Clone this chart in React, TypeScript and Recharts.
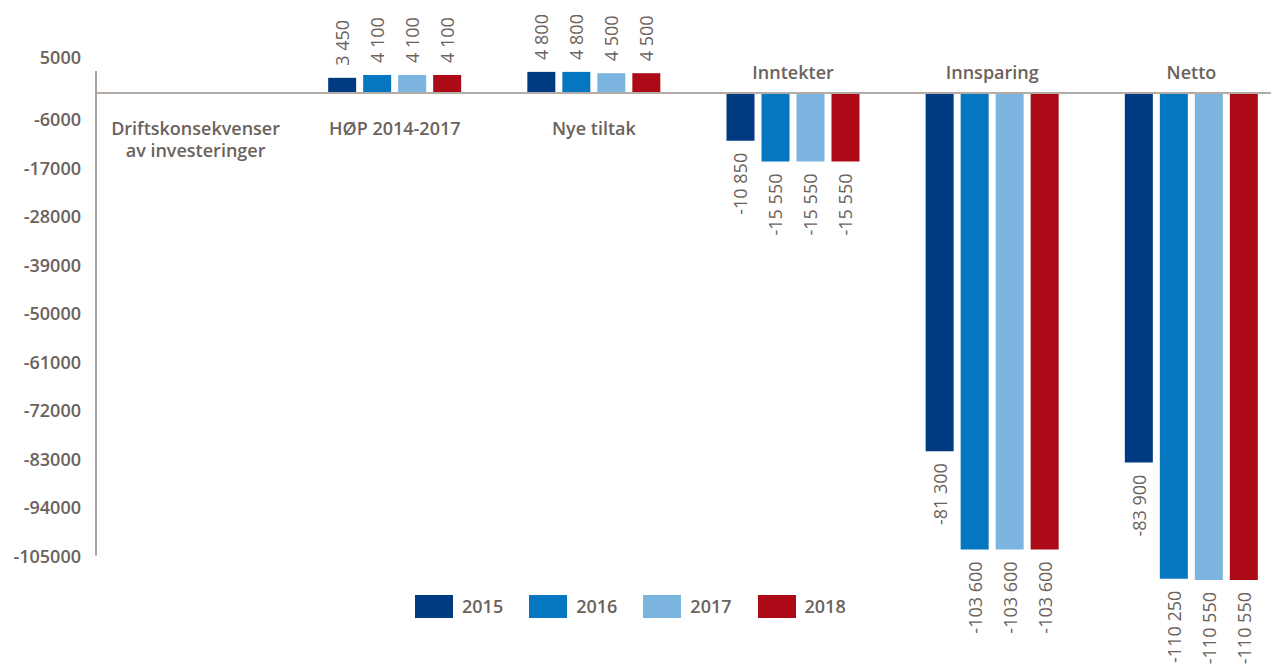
import React from 'react';
import { BarChart, Bar, XAxis, YAxis, ReferenceLine, ReferenceDot, LabelList } from 'recharts';

const categories = [
  'Driftskonsekvenser av investeringer',
  'HØP 2014-2017',
  'Nye tiltak',
  'Inntekter',
  'Innsparing',
  'Netto',
];
const years = ['2015', '2016', '2017', '2018'];
const v2015 = [0, 3450, 4800, -10850, -81300, -83900];
const v2016 = [0, 4100, 4800, -15550, -103600, -110250];
const v2017 = [0, 4100, 4500, -15550, -103600, -110550];
const v2018 = [0, 4100, 4500, -15550, -103600, -110550];
const yTicks = [5000, -6000, -17000, -28000, -39000, -50000, -61000, -72000, -83000, -94000, -105000];
const colors = ['#003b82', '#0477c0', '#7bb4df', '#ad0a17'];

const seriesValues = [v2015, v2016, v2017, v2018];
const data = categories.map((c, i) => {
  const row: any = { name: c };
  years.forEach((y, k) => {
    row[y] = seriesValues[k][i];
  });
  return row;
});

const TEXT = '#6b625c';
const FONT = '"Open Sans", "DejaVu Sans", sans-serif';

const fmt = (v: number) => {
  const s = Math.abs(v).toString().replace(/\B(?=(\d{3})+(?!\d))/g, ' ');
  return (v < 0 ? '-' : '') + s;
};

const ValueLabel = (props: any) => {
  const { x, y, width, height, value } = props;
  if (!value) return null;
  const cx = x + width / 2;
  const top = Math.min(y, y + height);
  const bottom = Math.max(y, y + height);
  if (value > 0) {
    const ty = top - 12;
    return (
      <text x={cx} y={ty} transform={`rotate(-90, ${cx}, ${ty})`} textAnchor="start" dominantBaseline="central"
        fill={TEXT} fontSize={18} fontFamily={FONT}>
        {fmt(value)}
      </text>
    );
  }
  const ty = bottom + 12;
  return (
    <text x={cx} y={ty} transform={`rotate(-90, ${cx}, ${ty})`} textAnchor="end" dominantBaseline="central"
      fill={TEXT} fontSize={18} fontFamily={FONT}>
      {fmt(value)}
    </text>
  );
};

const YTick = (props: any) => {
  const { x, y, payload } = props;
  const isTop = payload.value === Math.max(...yTicks);
  return (
    <text x={x} y={y + (isTop ? -14 : 0)} textAnchor="end" dominantBaseline="central" fill={TEXT}
      fontSize={18} fontWeight={600} fontFamily={FONT}>
      {payload.value}
    </text>
  );
};

const makeCatLabel = (name: string, negative: boolean) => (props: any) => {
  const { cx, cy } = props;
  let lines = [name];
  if (name.length > 20) {
    const idx = name.indexOf(' ');
    lines = [name.slice(0, idx), name.slice(idx + 1)];
  }
  const firstY = negative ? cy - 21 : cy + 35;
  return (
    <text textAnchor="middle" fill={TEXT} fontSize={18} fontWeight={600} fontFamily={FONT}>
      {lines.map((l, i) => (
        <tspan key={i} x={cx} y={firstY + i * 22} dominantBaseline="central">
          {l}
        </tspan>
      ))}
    </text>
  );
};

export default function App() {
  return (
    <div style={{ margin: '-8px 0 0 -8px', width: 1279, height: 666, overflow: 'hidden', position: 'relative', background: '#fff' }}>
      <BarChart width={1291} height={666} data={data} margin={{ top: 71, right: 0, bottom: 86, left: 0 }}
        barGap={7} barSize={28}>
        <XAxis xAxisId="cat" dataKey="name" hide />
        <XAxis xAxisId="num" type="number" domain={[0, 1]} hide />
        <YAxis domain={[-110550, 5000]} ticks={yTicks} interval={0} width={96} axisLine={false} tickLine={false}
          tickSize={0} tickMargin={15} tick={<YTick />} allowDataOverflow />
        <ReferenceLine xAxisId="cat" y={0} stroke="#b3aca6" strokeWidth={2} />
        <ReferenceLine xAxisId="num" segment={[{ x: 0, y: 5000 }, { x: 0, y: -105000 }]} stroke="#aaa29b" strokeWidth={2} />
        {years.map((y, k) => (
          <Bar key={y} xAxisId="cat" dataKey={y} fill={colors[k]} isAnimationActive={false} minPointSize={1}>
            <LabelList dataKey={y} content={<ValueLabel />} />
          </Bar>
        ))}
        {categories.map((c, i) => (
          <ReferenceDot key={c} xAxisId="cat" x={c} y={0} r={0} shape={makeCatLabel(c, v2015[i] < 0)} />
        ))}
      </BarChart>
      <div style={{ position: 'absolute', left: 415, top: 595, display: 'flex', alignItems: 'center', gap: 26, fontFamily: FONT }}>
        {years.map((y, k) => (
          <div key={y} style={{ display: 'flex', alignItems: 'center', gap: 9 }}>
            <div style={{ width: 38, height: 23, background: colors[k] }} />
            <span style={{ color: TEXT, fontSize: 18, fontWeight: 600, lineHeight: '23px' }}>{y}</span>
          </div>
        ))}
      </div>
    </div>
  );
}
